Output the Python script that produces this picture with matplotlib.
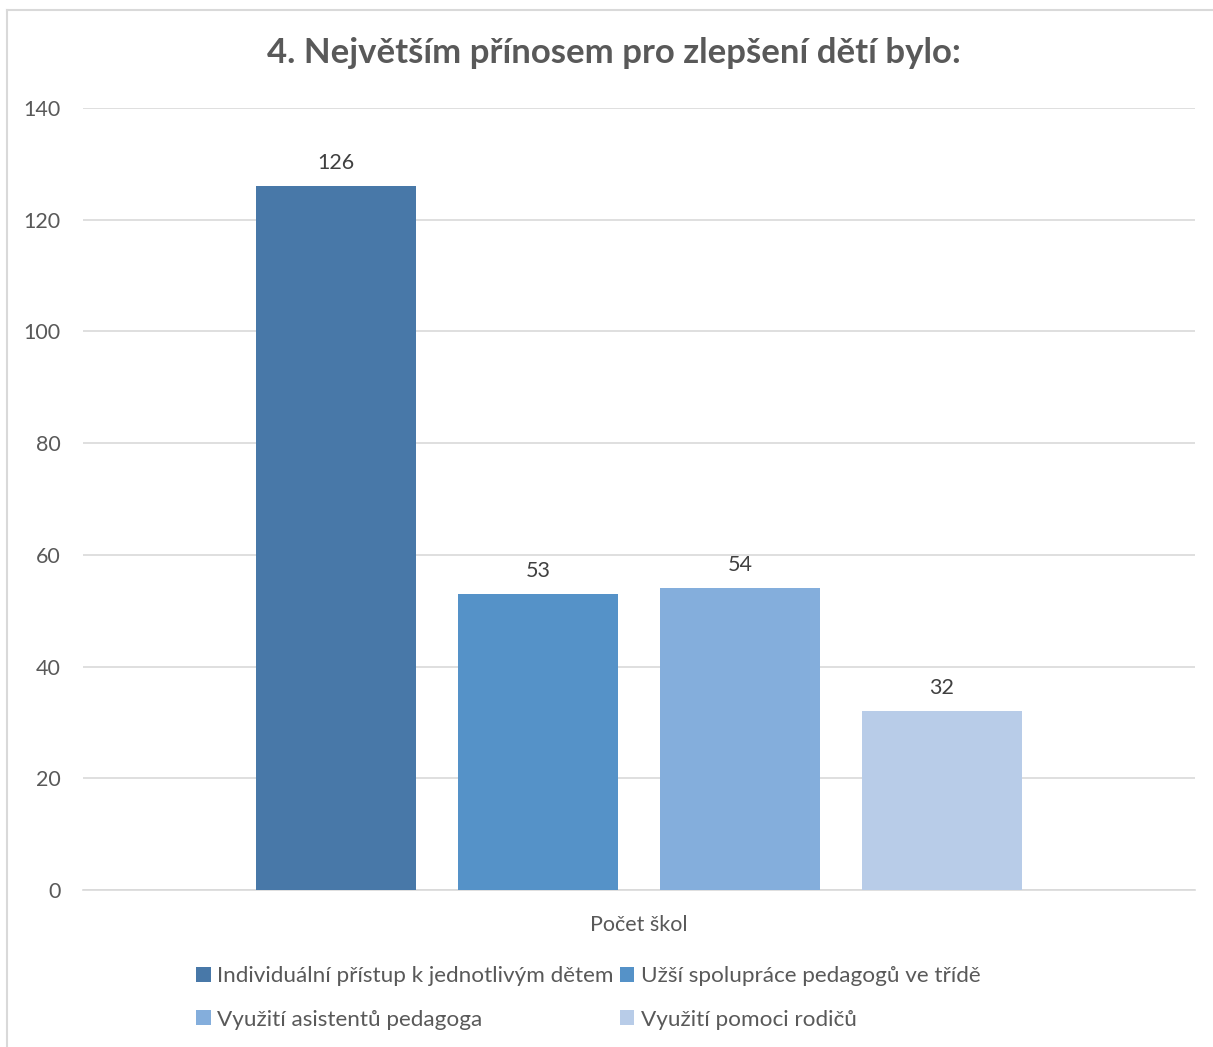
import matplotlib.pyplot as plt
from matplotlib.patches import Patch

title = "4. Největším přínosem pro zlepšení dětí bylo:"
category = "Počet škol"
series = ["Individuální přístup k jednotlivým dětem",
          "Užší spolupráce pedagogů ve třídě",
          "Využití asistentů pedagoga",
          "Využití pomoci rodičů"]
values = [126, 53, 54, 32]
colors = ["#4878A8", "#5592C8", "#84AEDC", "#B8CCE8"]
yticks = [0, 20, 40, 60, 80, 100, 120, 140]

plt.rcParams['font.family'] = ['Lato', 'DejaVu Sans']

W, H = 1213, 1047
fig = plt.figure(figsize=(W / 100, H / 100), dpi=100)

# chart frame (only top and left edges are inside the image)
fig.add_artist(plt.Line2D([7 / W, 7 / W], [0, 1 - 10 / H], color="#d9d9d9", lw=1.5))
fig.add_artist(plt.Line2D([7 / W, 1], [1 - 10 / H, 1 - 10 / H], color="#d9d9d9", lw=1.5))

ax = fig.add_axes([83 / W, 1 - 890 / H, (1195 - 83) / W, (890 - 108) / H])

bw = 160 / 1112
step = 202 / 1112
n = len(values)
for i, (name, v, c) in enumerate(zip(series, values, colors)):
    x = (i - (n - 1) / 2) * step
    ax.bar(x, v, width=bw, color=c, label=name, zorder=3)
    ax.text(x, v + 2.4, str(v), ha="center", va="bottom", fontsize=15.5, color="#404040")

ax.set_xlim(-0.5, 0.5)
ax.set_ylim(0, 140)
ax.set_yticks(yticks)
ax.set_xticks([0])
ax.set_xticklabels([category])
ax.tick_params(axis="both", length=0, labelsize=15.5, colors="#595959")
ax.tick_params(axis="y", pad=16)
ax.tick_params(axis="x", pad=18)
ax.grid(axis="y", color="#d9d9d9", lw=1.2, zorder=0)
for s in ["top", "right", "left"]:
    ax.spines[s].set_visible(False)
ax.spines["bottom"].set_color("#d9d9d9")
ax.spines["bottom"].set_linewidth(1.2)

fig.text(614 / W, 1 - 53 / H, title, ha="center", va="center", fontsize=25,
         fontweight="bold", color="#595959")

# row-major legend: matplotlib fills columns first
order = [0, 2, 1, 3]
handles = [Patch(facecolor=colors[k], label=series[k]) for k in order]
leg = fig.legend(handles=handles, loc="upper left", bbox_to_anchor=(196 / W, 1 - 966 / H),
                 ncol=2, frameon=False, fontsize=16.2, labelcolor="#595959",
                 handlelength=0.65, handleheight=0.65, handletextpad=0.3,
                 columnspacing=0.25, labelspacing=1.05, borderpad=0, borderaxespad=0)

fig.savefig("out.png", dpi=100)
